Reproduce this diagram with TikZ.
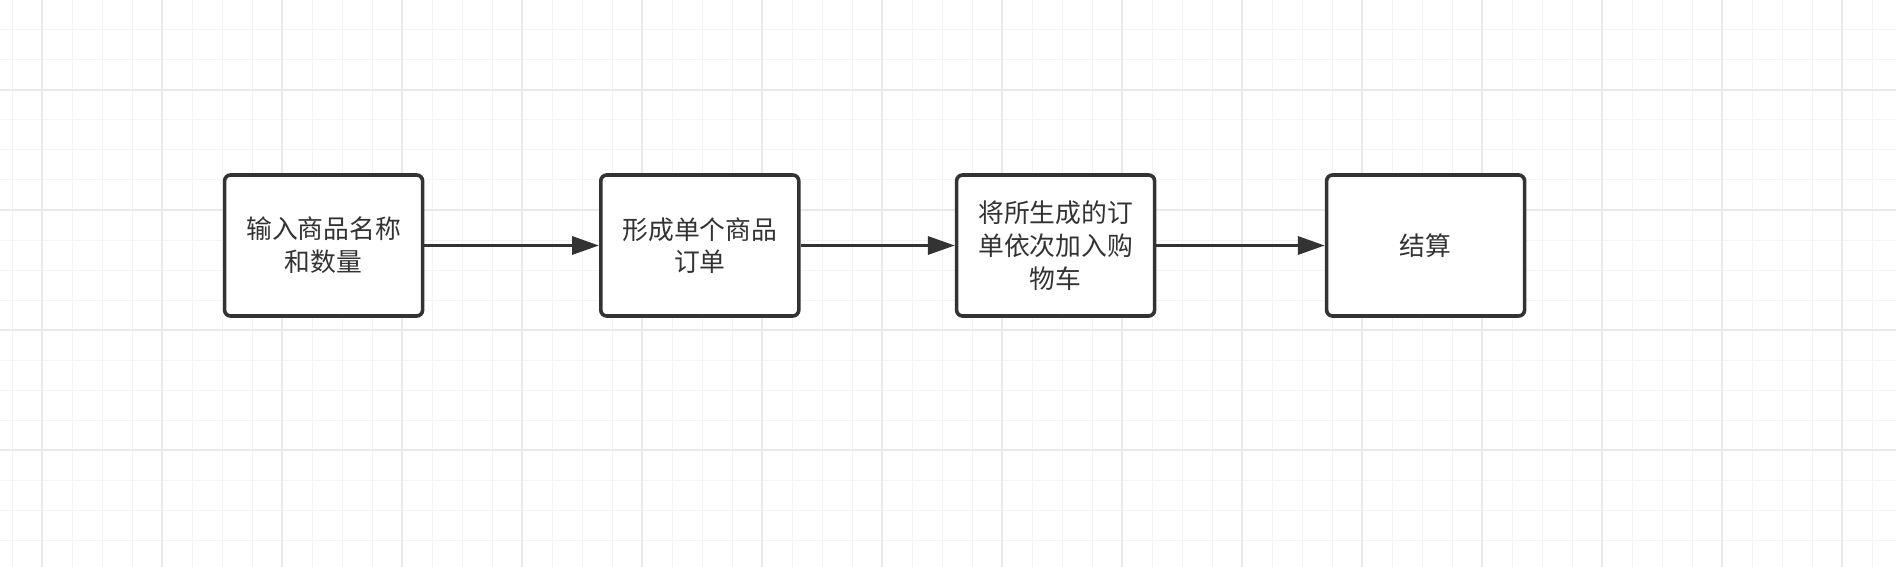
\documentclass[tikz,border=0pt]{standalone}
\usepackage{fontspec}
\newfontfamily\cjk{Noto Sans CJK SC}
\usetikzlibrary{positioning,arrows.meta}
\definecolor{inkgray}{HTML}{333333}
\definecolor{minorgrid}{HTML}{F4F4F4}
\definecolor{majorgrid}{HTML}{E9E9E9}

\begin{document}
\begin{tikzpicture}[x=0.5pt,y=-0.5pt]
          \tikzset{StepBox/.style = {draw=inkgray, line width=1.8pt, rounded corners=3pt, fill=white,
              minimum width=99pt, minimum height=70.5pt, align=center, text=inkgray,
              font=\cjk\fontsize{12.9pt}{16.35pt}\selectfont}}
          \tikzset{FlowEdge/.style = {draw=inkgray, line width=1.7pt, -{Triangle[length=13.5pt,width=9pt]}}}

          \fill[white] (0,0) rectangle (1896,567);
          \useasboundingbox (0,0) rectangle (1896,567);
          \foreach \k in {0,...,62} \draw[minorgrid, line width=0.5pt] (12+30*\k,0) -- (12+30*\k,567);
          \foreach \k in {0,...,18} \draw[minorgrid, line width=0.5pt] (0,30*\k) -- (1896,30*\k);
          \foreach \k in {0,...,15} \draw[majorgrid, line width=1pt] (42+120*\k,0) -- (42+120*\k,567);
          \foreach \k in {0,...,3} \draw[majorgrid, line width=1pt] (0,90+120*\k) -- (1896,90+120*\k);

          \node[StepBox] (input) at (323.6,245.5) {输入商品名称\\和数量};
          \node[StepBox, right=87.3pt of input] (order) {形成单个商品\\订单};
          \node[StepBox, right=77.1pt of order] (cart) {将所生成的订\\单依次加入购\\物车};
          \node[StepBox, right=84.2pt of cart] (pay) {结算};

          \draw[FlowEdge] (input) -- (order);
          \draw[FlowEdge] (order) -- (cart);
          \draw[FlowEdge] (cart) -- (pay);
        \end{tikzpicture}
\end{document}
